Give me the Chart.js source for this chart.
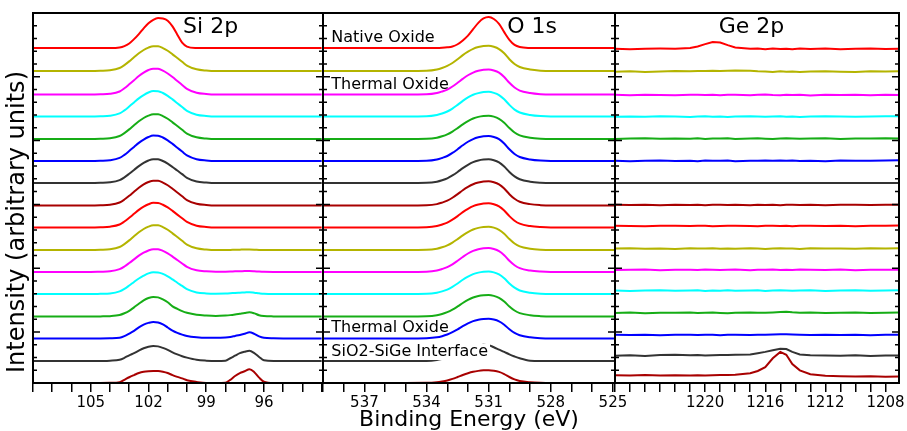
<!DOCTYPE html>
<html>
<head>
<meta charset="utf-8">
<script src="https://cdn.jsdelivr.net/npm/chart.js@4.4.0/dist/chart.umd.min.js"></script>
<style>
  html, body { margin: 0; padding: 0; background: #fff; }
  #wrap { position: relative; width: 907px; height: 431px; }
  #wrap canvas { position: absolute; left: 0; top: 0; }
</style>
</head>
<body>
<div id="wrap">
  <canvas id="siChart" width="907" height="431"></canvas>
  <canvas id="oChart" width="907" height="431"></canvas>
  <canvas id="geChart" width="907" height="431"></canvas>
</div>
<script>
// one colour per etch step, top to bottom
const traceColors = ['#ff0000', '#b4b400', '#ff00ff', '#00ffff', '#16ad16', '#0000ff', '#333333', '#a80000',
                     '#ff0000', '#b4b400', '#ff00ff', '#00ffff', '#16ad16', '#0000ff', '#333333', '#a80000'];

// vertical offset of each spectrum in the stack
const stackOffsets = [27.25, 25.45, 23.61, 21.89, 20.12, 18.40, 16.67, 14.91, 13.19, 11.42, 9.70, 7.97, 6.21, 4.49, 2.72, 1.0];
const geOffsets = [27.18, 25.40, 23.57, 21.87, 20.15, 18.40, 16.67, 14.95, 13.30, 11.53, 9.86, 8.23, 6.49, 4.76, 3.14, 1.49];

// Si 2p
const siEnergy = [108, 105, 104.5, 104, 103.5, 103.25, 103, 102.75, 102.5, 102.25, 102, 101.75, 101.5, 101.25, 101, 100.75, 100.5, 100.25, 100, 99.5,
                  99, 98.5, 98, 97.75, 97.5, 97.25, 97, 96.75, 96.5, 96.25, 96, 95.5, 95, 93];
const siCurves = [
  [0, 0, 0, 0, 0.04, 0.15, 0.36, 0.7, 1.1, 1.55, 1.95, 2.22, 2.35, 2.32, 2.15, 1.7, 1.05, 0.42, 0.12, 0.01, 0, 0, 0, 0, 0, 0, 0, 0, 0, 0, 0, 0, 0, 0],
  [0, 0, 0.02, 0.06, 0.24, 0.47, 0.76, 1.08, 1.39, 1.65, 1.84, 1.95, 1.94, 1.8, 1.59, 1.31, 1.02, 0.73, 0.43, 0.14, 0.04, 0, 0, 0, 0, 0, 0, 0, 0, 0, 0, 0, 0, 0],
  [0, 0, 0.02, 0.06, 0.24, 0.49, 0.8, 1.12, 1.45, 1.71, 1.92, 2.03, 2.02, 1.88, 1.65, 1.37, 1.06, 0.75, 0.45, 0.14, 0.04, 0, 0, 0, 0, 0, 0, 0, 0, 0, 0, 0, 0, 0],
  [0, 0, 0.02, 0.06, 0.24, 0.48, 0.78, 1.1, 1.42, 1.68, 1.88, 1.99, 1.98, 1.84, 1.62, 1.34, 1.04, 0.74, 0.44, 0.14, 0.04, 0, 0, 0, 0, 0, 0, 0, 0, 0, 0, 0, 0, 0],
  [0, 0, 0.02, 0.06, 0.24, 0.47, 0.76, 1.08, 1.39, 1.65, 1.84, 1.95, 1.94, 1.8, 1.59, 1.31, 1.02, 0.73, 0.43, 0.14, 0.04, 0, 0, 0, 0, 0, 0, 0, 0, 0, 0, 0, 0, 0],
  [0, 0, 0.02, 0.06, 0.24, 0.48, 0.78, 1.1, 1.42, 1.68, 1.88, 1.99, 1.98, 1.84, 1.62, 1.34, 1.04, 0.74, 0.44, 0.14, 0.04, 0, 0, 0, 0, 0, 0, 0, 0, 0, 0, 0, 0, 0],
  [0, 0, 0.02, 0.06, 0.23, 0.45, 0.73, 1.03, 1.33, 1.58, 1.77, 1.87, 1.86, 1.73, 1.52, 1.26, 0.98, 0.7, 0.41, 0.13, 0.04, 0, 0, 0, 0, 0, 0, 0, 0, 0, 0, 0, 0, 0],
  [0, 0, 0.02, 0.06, 0.24, 0.47, 0.76, 1.08, 1.39, 1.65, 1.84, 1.95, 1.94, 1.8, 1.59, 1.31, 1.02, 0.73, 0.43, 0.14, 0.04, 0, 0, 0, 0, 0, 0, 0, 0, 0, 0, 0, 0, 0],
  [0, 0, 0.02, 0.06, 0.23, 0.47, 0.76, 1.07, 1.38, 1.63, 1.82, 1.93, 1.92, 1.78, 1.57, 1.3, 1.01, 0.72, 0.43, 0.14, 0.04, 0, 0, 0, 0, 0, 0, 0, 0, 0, 0, 0, 0, 0],
  [0, 0, 0.02, 0.06, 0.24, 0.47, 0.76, 1.08, 1.39, 1.65, 1.84, 1.95, 1.94, 1.8, 1.59, 1.31, 1.02, 0.73, 0.43, 0.14, 0.04, 0, 0, 0.01, 0.02, 0.03, 0.04, 0.04, 0.03, 0.01, 0, 0, 0, 0],
  [0, 0, 0.02, 0.05, 0.22, 0.43, 0.7, 0.99, 1.28, 1.51, 1.69, 1.79, 1.78, 1.66, 1.46, 1.21, 0.94, 0.67, 0.4, 0.13, 0.05, 0.02, 0.02, 0.03, 0.05, 0.06, 0.07, 0.08, 0.06, 0.03, 0.01, 0, 0, 0],
  [0, 0, 0.02, 0.05, 0.21, 0.41, 0.67, 0.95, 1.22, 1.44, 1.62, 1.71, 1.7, 1.58, 1.39, 1.15, 0.89, 0.64, 0.38, 0.13, 0.05, 0.03, 0.04, 0.06, 0.09, 0.11, 0.13, 0.15, 0.11, 0.06, 0.02, 0, 0, 0],
  [0, 0, 0.01, 0.03, 0.12, 0.26, 0.45, 0.72, 1.0, 1.27, 1.45, 1.54, 1.5, 1.34, 1.12, 0.8, 0.6, 0.42, 0.29, 0.14, 0.08, 0.05, 0.08, 0.11, 0.16, 0.22, 0.28, 0.33, 0.25, 0.1, 0.04, 0.01, 0, 0],
  [0, 0, 0, 0.01, 0.05, 0.18, 0.38, 0.6, 0.87, 1.08, 1.22, 1.3, 1.25, 1.1, 0.86, 0.62, 0.44, 0.3, 0.19, 0.09, 0.05, 0.05, 0.08, 0.12, 0.2, 0.28, 0.37, 0.48, 0.36, 0.16, 0.05, 0.01, 0, 0],
  [0, 0, 0.01, 0.03, 0.1, 0.25, 0.45, 0.62, 0.82, 1.0, 1.12, 1.18, 1.15, 1.03, 0.88, 0.68, 0.52, 0.38, 0.27, 0.1, 0.03, 0, 0.03, 0.22, 0.42, 0.62, 0.73, 0.8, 0.62, 0.32, 0.06, 0, 0, 0],
  [0, 0, 0, 0.01, 0.06, 0.25, 0.45, 0.62, 0.78, 0.88, 0.93, 0.95, 0.94, 0.88, 0.78, 0.62, 0.48, 0.36, 0.22, 0.08, 0, 0, 0.02, 0.25, 0.55, 0.78, 0.92, 1.08, 0.85, 0.42, 0.1, 0, 0, 0]
];

// O 1s
const oEnergy = [539, 535, 534, 533.5, 533.25, 533, 532.75, 532.5, 532.25, 532, 531.75, 531.5, 531.25, 531, 530.75, 530.5, 530.25, 530, 529.75, 529.5,
                 529, 528.5, 528, 524.9];
const oCurves = [
  [0, 0, 0, 0, 0.02, 0.06, 0.13, 0.3, 0.6, 0.98, 1.48, 1.98, 2.32, 2.43, 2.28, 1.9, 1.25, 0.65, 0.25, 0.08, 0.01, 0, 0, 0],
  [0, 0, 0.02, 0.12, 0.24, 0.4, 0.63, 0.93, 1.25, 1.52, 1.74, 1.88, 1.96, 1.98, 1.9, 1.72, 1.39, 0.93, 0.55, 0.32, 0.12, 0.03, 0, 0],
  [0, 0, 0.02, 0.12, 0.24, 0.39, 0.63, 0.92, 1.23, 1.51, 1.72, 1.86, 1.94, 1.96, 1.88, 1.71, 1.37, 0.92, 0.55, 0.31, 0.12, 0.03, 0, 0],
  [0, 0, 0.02, 0.12, 0.23, 0.39, 0.62, 0.91, 1.22, 1.49, 1.7, 1.83, 1.91, 1.93, 1.85, 1.68, 1.35, 0.91, 0.54, 0.31, 0.12, 0.03, 0, 0],
  [0, 0, 0.02, 0.11, 0.22, 0.37, 0.59, 0.86, 1.15, 1.41, 1.61, 1.74, 1.81, 1.83, 1.76, 1.59, 1.28, 0.86, 0.51, 0.29, 0.11, 0.03, 0, 0],
  [0, 0, 0.02, 0.12, 0.24, 0.39, 0.63, 0.92, 1.23, 1.51, 1.72, 1.86, 1.94, 1.96, 1.88, 1.71, 1.37, 0.92, 0.55, 0.31, 0.12, 0.03, 0, 0],
  [0, 0, 0.02, 0.11, 0.22, 0.37, 0.6, 0.87, 1.17, 1.43, 1.64, 1.77, 1.84, 1.86, 1.79, 1.62, 1.3, 0.87, 0.52, 0.3, 0.11, 0.03, 0, 0],
  [0, 0, 0.02, 0.11, 0.23, 0.38, 0.61, 0.89, 1.2, 1.46, 1.67, 1.8, 1.88, 1.9, 1.82, 1.65, 1.33, 0.89, 0.53, 0.3, 0.11, 0.03, 0, 0],
  [0, 0, 0.02, 0.11, 0.23, 0.38, 0.61, 0.89, 1.2, 1.46, 1.67, 1.8, 1.88, 1.9, 1.82, 1.65, 1.33, 0.89, 0.53, 0.3, 0.11, 0.03, 0, 0],
  [0, 0, 0.02, 0.11, 0.22, 0.37, 0.59, 0.86, 1.15, 1.41, 1.61, 1.74, 1.81, 1.83, 1.76, 1.59, 1.28, 0.86, 0.51, 0.29, 0.11, 0.03, 0, 0],
  [0, 0, 0.02, 0.11, 0.23, 0.38, 0.6, 0.88, 1.18, 1.45, 1.65, 1.79, 1.86, 1.88, 1.8, 1.64, 1.32, 0.88, 0.53, 0.3, 0.11, 0.03, 0, 0],
  [0, 0, 0.02, 0.11, 0.21, 0.35, 0.57, 0.83, 1.12, 1.36, 1.56, 1.68, 1.75, 1.77, 1.7, 1.54, 1.24, 0.83, 0.5, 0.28, 0.11, 0.03, 0, 0],
  [0, 0, 0.02, 0.1, 0.2, 0.34, 0.54, 0.79, 1.06, 1.3, 1.49, 1.61, 1.67, 1.69, 1.62, 1.47, 1.18, 0.79, 0.47, 0.27, 0.1, 0.03, 0, 0],
  [0, 0, 0.02, 0.09, 0.18, 0.31, 0.49, 0.72, 0.97, 1.19, 1.36, 1.46, 1.52, 1.54, 1.48, 1.34, 1.08, 0.72, 0.43, 0.25, 0.09, 0.02, 0, 0],
  [0, 0, 0.01, 0.08, 0.16, 0.26, 0.42, 0.61, 0.82, 1.0, 1.14, 1.23, 1.28, 1.25, 1.08, 0.9, 0.72, 0.52, 0.36, 0.22, 0.03, 0, 0, 0],
  [0, 0, 0.01, 0.06, 0.12, 0.2, 0.32, 0.47, 0.63, 0.77, 0.88, 0.95, 0.99, 1.0, 0.96, 0.87, 0.7, 0.47, 0.28, 0.16, 0.06, 0.015, 0, 0]
];

// Ge 2p
const geEnergy = [1226, 1225, 1224, 1223, 1222, 1221, 1220.5, 1220, 1219.5, 1219, 1218.5, 1218, 1217, 1216.5, 1216, 1215.5, 1215, 1214.6, 1214.2, 1213.7,
                  1213, 1212, 1211, 1210, 1209, 1208, 1207.1];
const geCurves = [
  [0.02, -0.03, 0.02, 0.03, 0.02, 0.08, 0.2, 0.38, 0.55, 0.5, 0.3, 0.12, 0.02, 0.03, -0.02, 0.03, 0, 0.02, -0.02, 0.03, 0, 0.03, -0.02, 0.02, 0.03, -0.01, 0.01],
  [0, 0.03, -0.02, 0.02, 0.05, 0.03, 0.06, 0.05, 0.08, 0.06, 0.08, 0.1, 0.08, 0.04, 0.02, -0.02, 0.03, 0, 0.02, -0.03, 0.02, 0.03, 0, -0.02, 0.03, 0.01, 0.04],
  [0.02, -0.02, 0.03, 0.01, -0.02, 0.03, 0.02, 0, 0.03, -0.02, 0.02, 0.03, -0.01, 0.02, 0.04, 0, -0.02, 0.03, 0.01, 0.02, -0.03, 0.02, 0, 0.03, -0.02, 0.02, 0.01],
  [0, 0.02, -0.01, 0.03, 0.01, -0.02, 0.02, 0.03, 0, 0.02, -0.02, 0.01, 0.03, 0.02, -0.01, 0.02, 0.03, 0, 0.02, -0.02, 0.01, 0.03, 0.02, -0.01, 0.02, 0.03, 0.04],
  [-0.02, 0.02, 0.03, -0.01, 0.02, 0, 0.03, -0.02, 0.02, 0.01, 0.03, -0.02, 0.02, 0.03, 0, -0.02, 0.02, 0.03, 0.01, -0.01, 0.02, 0.03, -0.02, 0.02, 0.01, 0.03, 0.02],
  [0.01, -0.02, 0.02, 0.03, 0, 0.02, -0.02, 0.03, 0.01, 0.02, 0.03, -0.01, 0.02, 0.01, 0.03, 0.02, 0.04, 0.02, 0.03, 0, 0.02, -0.02, 0.03, 0.01, 0.02, 0.03, 0.05],
  [0, 0, 0, 0, 0, 0, 0, 0, 0, 0, 0, 0, 0, 0, 0, 0, 0, 0, 0, 0, 0, 0, 0, 0, 0, 0, 0],
  [0.02, 0, 0.03, -0.02, 0.02, 0.01, 0.03, -0.01, 0.02, 0.03, 0, 0.02, -0.02, 0.03, 0.01, 0.02, -0.01, 0.03, 0.02, 0, 0.03, -0.02, 0.02, 0.03, 0.01, 0.02, 0.03],
  [0.03, 0.01, -0.02, 0.02, 0.03, 0, 0.02, 0.03, -0.02, 0.01, 0.02, 0.03, 0, -0.02, 0.03, 0.02, 0.01, 0.03, -0.01, 0.02, 0.03, 0, 0.02, -0.02, 0.02, 0.03, 0.04],
  [0.02, 0.03, 0, 0.02, -0.02, 0.03, 0.01, 0.02, 0.03, -0.01, 0.02, 0, 0.03, 0.02, -0.02, 0.02, 0.03, 0.01, 0.02, -0.02, 0.03, 0.01, 0.02, 0, 0.03, 0.02, 0.03],
  [0, 0.02, 0.03, -0.02, 0.02, 0.01, -0.01, 0.03, 0.02, 0, 0.02, 0.03, -0.02, 0.02, 0.01, 0.03, 0, 0.02, -0.01, 0.03, 0.02, 0, 0.03, -0.02, 0.02, 0.01, 0.02],
  [0.02, -0.01, 0.02, 0.03, 0, 0.02, 0.03, -0.02, 0.02, 0.01, 0.03, 0, 0.02, 0.03, -0.01, 0.02, 0.03, 0.02, 0, 0.02, 0.03, -0.01, 0.02, 0.03, 0.01, 0.02, 0.04],
  [0, 0.03, -0.02, 0.02, 0.01, 0.03, -0.01, 0.02, 0.03, 0, -0.02, 0.02, 0.03, 0.01, 0.02, 0.04, 0.07, 0.1, 0.05, 0.02, 0.03, -0.01, 0.02, 0.03, 0, 0.02, 0.03],
  [0.03, 0.01, 0.02, -0.01, 0.03, 0.02, 0, 0.02, 0.03, -0.01, 0.02, 0.03, 0.01, 0.02, 0.03, 0.05, 0.06, 0.06, 0.04, 0.02, 0.01, 0.03, 0, 0.02, -0.01, 0.02, 0.03],
  [0, 0.03, -0.02, 0.05, 0.08, 0.03, 0.05, 0.02, 0.04, 0.06, 0.05, 0.08, 0.1, 0.2, 0.3, 0.42, 0.55, 0.52, 0.3, 0.1, 0.04, 0.02, 0, 0.03, -0.02, 0.01, 0.02],
  [0.12, 0.1, 0.13, 0.09, 0.12, 0.1, 0.11, 0.1, 0.12, 0.13, 0.14, 0.16, 0.28, 0.45, 0.75, 1.45, 1.95, 1.72, 1.0, 0.5, 0.2, 0.08, 0.04, 0.02, 0.03, 0, 0.01]
];

// labelled ticks on each energy axis
const siTickLabels = [105, 102, 99, 96];
const oTickLabels = [537, 534, 531, 528, 525];
const geTickLabels = [1220, 1216, 1212, 1208];

const FONT = 'DejaVu Sans';

function buildSets(energy, curves, offsets, smooth) {
  return curves.map((vals, i) => ({
    data: vals.map((v, k) => ({ x: energy[k], y: offsets[i] + v })),
    borderColor: traceColors[i],
    borderWidth: 2,
    pointRadius: 0,
    fill: false,
    tension: smooth ? 0.4 : 0,
    cubicInterpolationMode: smooth ? 'monotone' : 'default'
  }));
}

function xScale(min, max, labels, title) {
  return {
    type: 'linear',
    position: 'bottom',
    reverse: true,
    min: min,
    max: max,
    afterFit: s => { s.height = 48; },
    border: { display: false },
    grid: { drawOnChartArea: false, drawTicks: true, tickLength: 9, color: '#000', lineWidth: 1.5 },
    ticks: {
      stepSize: 1,
      includeBounds: false,
      autoSkip: false,
      maxRotation: 0,
      padding: 2,
      color: '#000',
      font: { family: FONT, size: 15 },
      callback: v => labels.includes(v) ? String(v) : ''
    },
    title: {
      display: !!title,
      text: title || '',
      color: '#000',
      padding: 0,
      font: { family: FONT, size: 22, lineHeight: 1 }
    }
  };
}

const yScale = {
  type: 'linear',
  min: 1,
  max: 30,
  afterFit: s => { s.width = 0; },
  border: { display: false },
  grid: { display: false },
  ticks: { display: false, stepSize: 1 }
};

// box + inward ticks on the left and right edges of every panel
const frameTicks = {
  id: 'frameTicks',
  afterDraw(chart) {
    const { ctx, chartArea: a, scales: { y } } = chart;
    ctx.save();
    ctx.strokeStyle = '#000';
    ctx.lineWidth = 1.5;
    y.ticks.forEach(t => {
      const py = y.getPixelForValue(t.value);
      const len = t.value % 5 === 0 ? 7 : 4;
      ctx.beginPath();
      ctx.moveTo(a.left, py);
      ctx.lineTo(a.left + len, py);
      ctx.moveTo(a.right, py);
      ctx.lineTo(a.right - len, py);
      ctx.stroke();
    });
    ctx.lineWidth = 2;
    ctx.strokeRect(a.left, a.top, a.right - a.left, a.bottom - a.top);
    ctx.restore();
  }
};

// panel names and sample notes, anchored in data coordinates
const panelText = {
  id: 'panelText',
  afterDatasetsDraw(chart, args, opts) {
    const { ctx, scales: { x, y } } = chart;
    ctx.save();
    (opts.items || []).forEach(it => {
      ctx.font = it.size + 'px "' + FONT + '"';
      ctx.textBaseline = 'middle';
      ctx.textAlign = 'left';
      const px = x.getPixelForValue(it.x);
      const py = y.getPixelForValue(it.y);
      if (it.box) {
        const w = ctx.measureText(it.text).width;
        ctx.fillStyle = '#fff';
        ctx.fillRect(px - 1, py - it.size / 2, w + 3, it.size);
      }
      ctx.fillStyle = '#000';
      ctx.fillText(it.text, px, py);
    });
    if (opts.yTitle) {
      ctx.translate(18, 222);
      ctx.rotate(-Math.PI / 2);
      ctx.font = '24px "' + FONT + '"';
      ctx.textAlign = 'center';
      ctx.fillStyle = '#000';
      ctx.fillText(opts.yTitle, 0, 0);
    }
    ctx.restore();
  }
};

function makePanel(id, sets, xs, left, right, items, yTitle) {
  return new Chart(document.getElementById(id), {
    type: 'line',
    data: { datasets: sets },
    options: {
      responsive: false,
      animation: false,
      events: [],
      layout: { padding: { left: left, right: 907 - right, top: 13, bottom: 0 } },
      scales: { x: xs, y: yScale },
      plugins: {
        legend: { display: false },
        tooltip: { enabled: false },
        panelText: { items: items, yTitle: yTitle }
      }
    },
    plugins: [panelText, frameTicks]
  });
}

makePanel('siChart', buildSets(siEnergy, siCurves, stackOffsets, true),
  xScale(92.93, 108, siTickLabels), 33, 323,
  [{ text: 'Si 2p', x: 100.2, y: 28.9, size: 22 }],
  'Intensity (arbitrary units)');

makePanel('oChart', buildSets(oEnergy, oCurves, stackOffsets, true),
  xScale(524.9, 539, oTickLabels, 'Binding Energy (eV)'), 323, 615,
  [
    { text: 'O 1s', x: 530.1, y: 28.9, size: 22 },
    { text: 'Native Oxide', x: 538.6, y: 28.04, size: 16 },
    { text: 'Thermal Oxide', x: 538.6, y: 24.35, size: 16 },
    { text: 'Thermal Oxide', x: 538.6, y: 5.31, size: 16 },
    { text: 'SiO2-SiGe Interface', x: 538.6, y: 3.43, size: 16, box: true }
  ]);

makePanel('geChart', buildSets(geEnergy, geCurves, geOffsets, false),
  xScale(1207.1, 1226, geTickLabels), 615, 899,
  [{ text: 'Ge 2p', x: 1219.1, y: 28.9, size: 22 }]);
</script>
</body>
</html>
